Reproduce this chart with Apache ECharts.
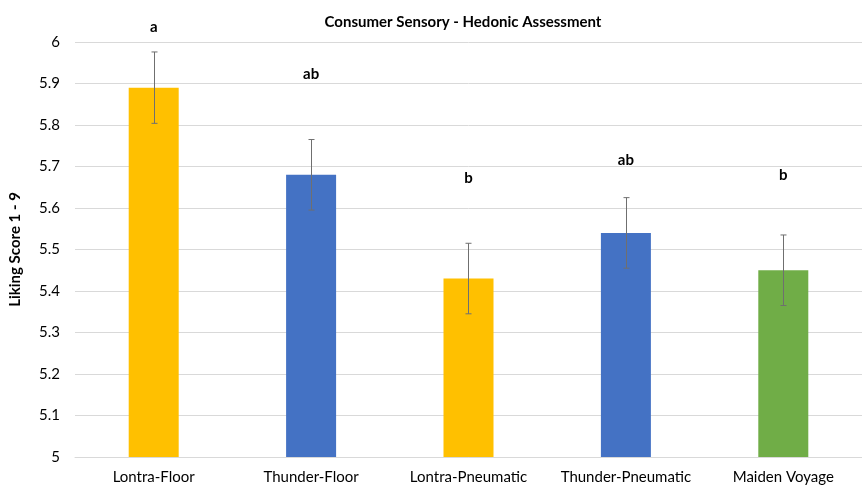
<!DOCTYPE html>
<html><head><meta charset="utf-8">
<script src="https://cdn.jsdelivr.net/npm/echarts@6/dist/echarts.min.js"></script>
<style>html,body{margin:0;padding:0;background:#fff}#c{width:862px;height:487px}</style>
</head><body><div id="c"></div>
<script>
const categories = ['Lontra-Floor','Thunder-Floor','Lontra-Pneumatic','Thunder-Pneumatic','Maiden Voyage'];
const scores = [5.89, 5.68, 5.43, 5.54, 5.45];
const errors = [0.086, 0.085, 0.085, 0.085, 0.085];
const letters = ['a','ab','b','ab','b'];
const letterAt = [6.036, 5.923, 5.672, 5.716, 5.680];
const colors = ['#FFC000','#4472C4','#FFC000','#4472C4','#70AD47'];
const yTicks = [5, 5.1, 5.2, 5.3, 5.4, 5.5, 5.6, 5.7, 5.8, 5.9, 6];

const FONT = 'Lato, "Open Sans", sans-serif';
const chart = echarts.init(document.getElementById('c'));
chart.setOption({
  animation: false,
  title: {text: 'Consumer Sensory - Hedonic Assessment', left: 458, top: 10, textAlign: 'center',
    textStyle: {fontFamily: FONT, fontSize: 15, fontWeight: 'bold', color: '#000'}},
  grid: {left: 74, right: -4, top: 42, bottom: 30},
  xAxis: {type: 'category', data: categories,
    axisLine: {lineStyle: {color: '#d9d9d9'}}, axisTick: {show: false},
    axisLabel: {fontFamily: FONT, fontSize: 15, color: '#000', margin: 13, interval: 0}},
  yAxis: {type: 'value', min: yTicks[0], max: yTicks[yTicks.length-1], interval: 0.1,
    name: 'Liking Score 1 - 9', nameLocation: 'middle', nameGap: 52, nameRotate: 90,
    nameTextStyle: {fontFamily: FONT, fontSize: 15, fontWeight: 'bold', color: '#000'},
    axisLine: {show: false}, axisTick: {show: false},
    axisLabel: {fontFamily: FONT, fontSize: 15, color: '#000', margin: 15,
      formatter: v => String(Math.round(v*10)/10)},
    splitLine: {lineStyle: {color: '#d9d9d9', width: 1}}},
  series: [
    {type: 'bar', barWidth: 50,
      data: scores.map((v,i) => ({value: v, itemStyle: {color: colors[i]}}))},
    {type: 'custom', z: 10,
      data: scores.map((v,i) => [i, v - errors[i], v + errors[i]]),
      renderItem: (params, api) => {
        const lo = api.coord([api.value(0), api.value(1)]);
        const hi = api.coord([api.value(0), api.value(2)]);
        const x = Math.round(lo[0]) + 0.5;
        const st = {stroke: '#6f6f6f', lineWidth: 1};
        return {type: 'group', children: [
          {type: 'line', shape: {x1: x, y1: lo[1], x2: x, y2: hi[1]}, style: st},
          {type: 'line', shape: {x1: x-3, y1: lo[1], x2: x+3, y2: lo[1]}, style: st},
          {type: 'line', shape: {x1: x-3, y1: hi[1], x2: x+3, y2: hi[1]}, style: st}
        ]};
      }},
    {type: 'custom', z: 11, clip: false,
      data: letterAt.map((v,i) => [i, v, letters[i]]),
      renderItem: (params, api) => {
        const p = api.coord([api.value(0), api.value(1)]);
        return {type: 'text', x: p[0], y: p[1],
          style: {text: letters[params.dataIndex], fontFamily: FONT, fontSize: 15, fontWeight: 'bold',
            fill: '#000', align: 'center', verticalAlign: 'middle'}};
      }}
  ]
});
</script></body></html>
